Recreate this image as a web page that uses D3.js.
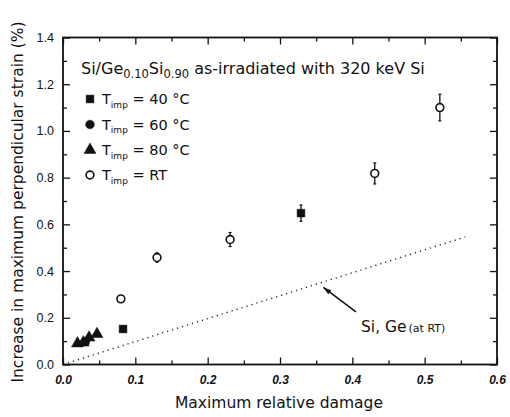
<!DOCTYPE html>
<html>
<head>
<meta charset="utf-8">
<script src="https://cdn.jsdelivr.net/npm/d3@7"></script>
<style>
  body { margin: 0; background: #fff; }
  svg { display: block; }
  text { font-family: "DejaVu Sans", "Liberation Sans", Arial, sans-serif; fill: #111; }
  .tick text { font-family: "Liberation Sans", Arial, sans-serif; }
</style>
</head>
<body>
<svg id="chart" width="510" height="417"></svg>
<script>
// Implantation series: maximum relative damage vs. increase in perpendicular strain (%)
const t40x = [0.083, 0.329];
const t40y = [0.152, 0.648];
const t40err = [0.012, 0.035];

const t60x = [0.031];
const t60y = [0.098];

const t80x = [0.020, 0.028, 0.036, 0.047];
const t80y = [0.090, 0.094, 0.115, 0.130];

const rtX = [0.080, 0.130, 0.231, 0.431, 0.521];
const rtY = [0.281, 0.458, 0.535, 0.818, 1.100];
const rtErr = [0.010, 0.020, 0.030, 0.045, 0.057];

// Reference line for pure Si, Ge at room temperature
const refX = [0, 0.556];
const refY = [0, 0.546];

const xTicks = [0.0, 0.1, 0.2, 0.3, 0.4, 0.5, 0.6];
const yTicks = [0.0, 0.2, 0.4, 0.6, 0.8, 1.0, 1.2, 1.4];

(function draw() {
const svg = d3.select("#chart");
const mLeft = 63, mRight = 497, mTop = 37.5, mBottom = 364.5;

const x = d3.scaleLinear().domain([0, 0.6]).range([mLeft, mRight]);
const y = d3.scaleLinear().domain([0, 1.4]).range([mBottom, mTop]);

// Axes with inward ticks on all four sides
const xMinor = d3.range(0.05, 0.6, 0.1);
const yMinor = d3.range(0.1, 1.4, 0.2);

function axisGroup(axis, tx, ty) {
  const g = svg.append("g").attr("transform", `translate(${tx},${ty})`).call(axis);
  g.select(".domain").remove();
  g.selectAll(".tick line").attr("stroke", "#111").attr("stroke-width", 1.3);
  return g;
}

const gxB = axisGroup(d3.axisBottom(x).tickValues(xTicks).tickSize(-7).tickPadding(11)
  .tickFormat(d3.format(".1f")), 0, mBottom);
gxB.selectAll("text").attr("font-size", 12).attr("font-style", "italic").attr("font-weight", "bold").attr("fill", "#222");
axisGroup(d3.axisBottom(x).tickValues(xMinor).tickSize(-4).tickFormat(""), 0, mBottom);
axisGroup(d3.axisTop(x).tickValues(xTicks).tickSize(-7).tickFormat(""), 0, mTop);
axisGroup(d3.axisTop(x).tickValues(xMinor).tickSize(-4).tickFormat(""), 0, mTop);

const gyL = axisGroup(d3.axisLeft(y).tickValues(yTicks).tickSize(-7).tickPadding(9)
  .tickFormat(d3.format(".1f")), mLeft, 0);
gyL.selectAll("text").attr("font-size", 12.5).attr("fill", "#222");
axisGroup(d3.axisLeft(y).tickValues(yMinor).tickSize(-4).tickFormat(""), mLeft, 0);
axisGroup(d3.axisRight(y).tickValues(yTicks).tickSize(-7).tickFormat(""), mRight, 0);
axisGroup(d3.axisRight(y).tickValues(yMinor).tickSize(-4).tickFormat(""), mRight, 0);

// Frame
svg.append("rect")
  .attr("x", mLeft).attr("y", mTop)
  .attr("width", mRight - mLeft).attr("height", mBottom - mTop)
  .attr("fill", "none").attr("stroke", "#111").attr("stroke-width", 1.8);

// Axis titles
svg.append("text")
  .attr("x", 279).attr("y", 408)
  .attr("text-anchor", "middle").attr("font-size", 15.5)
  .text("Maximum relative damage");

svg.append("text")
  .attr("transform", `translate(23,${(mTop + mBottom) / 2 + 1}) rotate(-90)`)
  .attr("text-anchor", "middle").attr("font-size", 15.5)
  .text("Increase in maximum perpendicular strain (%)");

// Dotted reference line
svg.append("line")
  .attr("x1", x(refX[0])).attr("y1", y(refY[0]))
  .attr("x2", x(refX[1])).attr("y2", y(refY[1]))
  .attr("stroke", "#222").attr("stroke-width", 1.4)
  .attr("stroke-dasharray", "1.2,4");

// Annotation arrow and label
const arrowTip = [0.36, 0.33], arrowTail = [0.405, 0.225];
const ax1 = x(arrowTip[0]), ay1 = y(arrowTip[1]);
const ax2 = x(arrowTail[0]), ay2 = y(arrowTail[1]);
svg.append("line")
  .attr("x1", ax1).attr("y1", ay1).attr("x2", ax2).attr("y2", ay2)
  .attr("stroke", "#111").attr("stroke-width", 1.6);
const ang = Math.atan2(ay2 - ay1, ax2 - ax1);
const hl = 8, hw = 2.6;
const hx = ax1 + hl * Math.cos(ang), hy = ay1 + hl * Math.sin(ang);
svg.append("path")
  .attr("d", `M${ax1},${ay1} L${hx - hw * Math.sin(ang)},${hy + hw * Math.cos(ang)} L${hx + hw * Math.sin(ang)},${hy - hw * Math.cos(ang)} Z`)
  .attr("fill", "#111");

const lbl = svg.append("text").attr("x", 361).attr("y", 332).attr("font-size", 15.5);
lbl.append("tspan").text("Si, Ge");
lbl.append("tspan").attr("font-size", 11).attr("dx", 2).text("(at RT)");

// Error bars
function errorBars(xs, ys, es) {
  xs.forEach((d, i) => {
    const cx = x(d);
    svg.append("line")
      .attr("x1", cx).attr("x2", cx)
      .attr("y1", y(ys[i] - es[i])).attr("y2", y(ys[i] + es[i]))
      .attr("stroke", "#111").attr("stroke-width", 1.3);
    [ys[i] - es[i], ys[i] + es[i]].forEach(v => {
      svg.append("line")
        .attr("x1", cx - 1.5).attr("x2", cx + 1.5)
        .attr("y1", y(v)).attr("y2", y(v))
        .attr("stroke", "#111").attr("stroke-width", 1.2);
    });
  });
}
errorBars(rtX, rtY, rtErr);
errorBars(t40x, t40y, t40err);

// Markers
const sym = {
  square: d3.symbol().type(d3.symbolSquare).size(60),
  circle: d3.symbol().type(d3.symbolCircle).size(60),
  triangle: d3.symbol().type(d3.symbolTriangle).size(62),
  open: d3.symbol().type(d3.symbolCircle).size(48)
};

function markers(xs, ys, path, filled) {
  xs.forEach((d, i) => {
    svg.append("path")
      .attr("d", path())
      .attr("transform", `translate(${x(d)},${y(ys[i])})`)
      .attr("fill", filled ? "#111" : "#fff")
      .attr("stroke", "#111")
      .attr("stroke-width", filled ? 0.5 : 1.6);
  });
}
markers(t60x, t60y, sym.circle, true);
markers(t80x, t80y, sym.triangle, true);
markers(t40x, t40y, sym.square, true);
markers(rtX, rtY, sym.open, false);

// Legend title
const title = svg.append("text").attr("x", 81).attr("y", 74).attr("font-size", 16);
title.append("tspan").text("Si/Ge");
title.append("tspan").attr("font-size", 11.5).attr("dy", 4).text("0.10");
title.append("tspan").attr("dy", -4).text("Si");
title.append("tspan").attr("font-size", 11.5).attr("dy", 4).text("0.90");
title.append("tspan").attr("dy", -4).text(" as-irradiated with 320 keV Si");

// Legend entries
const legendLabels = ["40 °C", "60 °C", "80 °C", "RT"];
const legendSyms = [[sym.square, true], [sym.circle, true], [sym.triangle, true], [sym.open, false]];
const legendY = [99, 124.5, 150, 175];

legendLabels.forEach((lab, i) => {
  const cy = legendY[i];
  svg.append("path")
    .attr("d", legendSyms[i][0]())
    .attr("transform", `translate(90,${cy})`)
    .attr("fill", legendSyms[i][1] ? "#111" : "#fff")
    .attr("stroke", "#111")
    .attr("stroke-width", legendSyms[i][1] ? 0.5 : 1.6);
  const t = svg.append("text").attr("x", 102).attr("y", cy + 5).attr("font-size", 14.5);
  t.append("tspan").text("T");
  t.append("tspan").attr("font-size", 9).attr("dy", 3.5).text("imp");
  t.append("tspan").attr("dy", -3.5).text(" = " + lab);
});
})();
</script>
</body>
</html>
